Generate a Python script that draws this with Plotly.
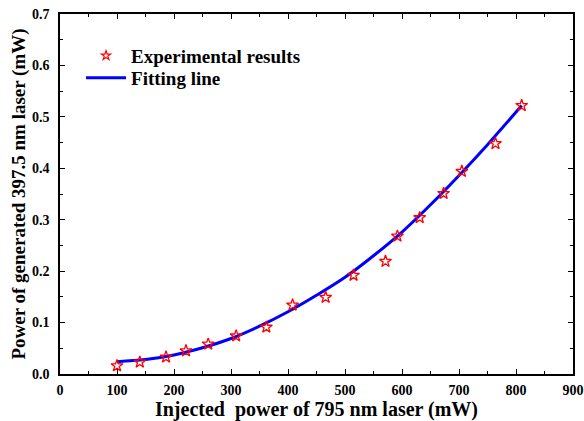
import plotly.graph_objects as go

exp_x = [100, 140, 186, 221, 260, 309, 362, 408, 466, 515, 571, 592, 631, 673, 705, 764, 810]
exp_y = [0.016, 0.023, 0.033, 0.045, 0.058, 0.074, 0.091, 0.134, 0.149, 0.192, 0.219, 0.268,
         0.304, 0.351, 0.394, 0.448, 0.522]

# Fitting line
fit_x = [100, 150, 200, 250, 300, 350, 400, 450, 500, 550, 600, 650, 700, 750, 810]
fit_y = [0.024, 0.028, 0.037, 0.051, 0.069, 0.093, 0.121, 0.153, 0.188, 0.230, 0.276, 0.329,
         0.386, 0.446, 0.522]

x_ticks = [0, 100, 200, 300, 400, 500, 600, 700, 800, 900]
y_ticks = [0.0, 0.1, 0.2, 0.3, 0.4, 0.5, 0.6, 0.7]

FONT = "Liberation Serif"
RED = "#ff0000"
BLUE = "#0000ff"

fig = go.Figure()
fig.add_trace(go.Scatter(
    x=fit_x, y=fit_y, mode="lines", name="<b>Fitting line</b>",
    line=dict(color=BLUE, width=3, shape="spline"), showlegend=False,
))
fig.add_trace(go.Scatter(
    x=exp_x, y=exp_y, mode="markers", name="<b>Experimental results</b>",
    marker=dict(symbol="star-open", color=RED, size=9, line=dict(width=1.3, color=RED)),
    showlegend=False,
))
# legend entries (smaller legend symbol as in the reference)
fig.add_trace(go.Scatter(
    x=[None], y=[None], mode="markers", name="<b>Experimental results</b>",
    marker=dict(symbol="star-open", color=RED, size=7, line=dict(width=1.2, color=RED)),
    legend="legend",
))
fig.add_trace(go.Scatter(
    x=[None], y=[None], mode="lines", name="<b>Fitting line</b>",
    line=dict(color=BLUE, width=3),
    legend="legend2",
))

axis_common = dict(
    showline=True, linecolor="black", linewidth=1.5, mirror="allticks",
    ticks="inside", tickcolor="black", ticklen=5, tickwidth=1.2,
    showgrid=False, zeroline=False, automargin=False,
    tickfont=dict(family=FONT, size=14, color="black", weight="bold"),
)

legend_common = dict(
    xanchor="left", yanchor="middle",
    bgcolor="rgba(0,0,0,0)", borderwidth=0,
    font=dict(family=FONT, size=19, color="black"),
    itemwidth=40,
)

fig.update_layout(
    width=584, height=421,
    margin=dict(l=60, r=11, t=14, b=47),
    paper_bgcolor="white", plot_bgcolor="white",
    font=dict(family=FONT, color="black"),
    showlegend=True,
    legend=dict(x=0.041, y=(374 - 55.7) / 360, **legend_common),
    legend2=dict(x=0.041, y=(374 - 78) / 360, **legend_common),
    xaxis=dict(
        range=[0, 900], tickvals=x_ticks, ticktext=[str(v) for v in x_ticks],
        minor=dict(dtick=50, ticks="inside", ticklen=3, tickcolor="black", tickwidth=1),
        title=dict(text="<b>Injected\u00a0 power of 795 nm laser (mW)</b>",
                   font=dict(family=FONT, size=20, color="black"), standoff=8),
        ticklabelstandoff=2,
        **axis_common,
    ),
    yaxis=dict(
        range=[0, 0.7], tickvals=y_ticks, ticktext=[f"{v:.1f}" for v in y_ticks],
        minor=dict(dtick=0.05, ticks="inside", ticklen=3, tickcolor="black", tickwidth=1),
        title=dict(text="<b>Power of generated 397.5 nm laser (mW)</b>",
                   font=dict(family=FONT, size=19, color="black"), standoff=1),
        ticklabelstandoff=6,
        **axis_common,
    ),
)

fig.write_html("out.html", config={"displayModeBar": False},
               post_script="document.body.style.margin='0';")
